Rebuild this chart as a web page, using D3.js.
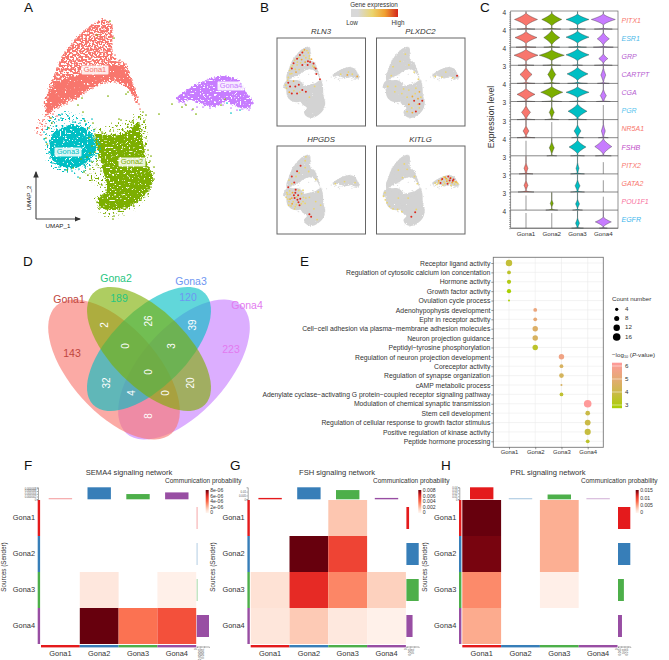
<!DOCTYPE html>
<html><head><meta charset="utf-8">
<script src="https://cdn.jsdelivr.net/npm/d3@7"></script>
<style>html,body{margin:0;padding:0;background:#fff}svg{display:block}text{font-family:"Liberation Sans",Arial,sans-serif}</style>
</head><body><svg id="c" width="669" height="660"></svg>
<script>
// ---------- DATA ----------
const clusters=["Gona1","Gona2","Gona3","Gona4"];
const clusterColors=["#F8766D","#7CAE00","#00BFC4","#C77CFF"];
// UMAP embedding. Outlines of populated areas.
const gona1Outline=[[10.5,2],[11.2,2.5],[11.3,3.7],[11.2,4.5],[11.5,5.8],[12.5,6.3],[13.2,8],[13.8,9.7],[13.9,10.7],[13.3,9.5],[12.3,8.5],[11,8.2],[9.3,8.8],[8,9.7],[6.7,10.3],[5.7,10.8],[4.7,11.5],[4.5,10],[5,8.7],[5.5,7.3],[6.2,5.7],[7.5,4],[8.7,2.8],[9.7,2.2]];
const gona1Band=[[4.7,11.3],[4.8,10],[5.2,8.8],[6.2,8],[7.8,7.5],[9.5,6.8],[11.2,6.5],[12.5,6.8],[13.3,8.5],[13.6,9.7],[12.3,8.2],[11,8],[9.3,8.6],[8,9.5],[6.7,10.1],[5.7,10.6]];
const gona1Tail=[[4.7,11.3],[3.8,12.3],[3.6,13.3],[4.3,13.5],[5,13],[5.5,12.5],[6,11.2]];
const gona2Outline=[[13.8,12.3],[14.3,14.3],[14.7,16.3],[15.3,17.7],[14.7,19.3],[13.3,20.5],[11.5,21],[10,20.7],[9.8,20],[10.7,19],[10.3,17],[9.7,14.7],[9.5,13.5],[11,13.5],[12.5,13.3],[13.2,12.8]];
const gona2Halo=[[14.2,11.2],[14.8,12.5],[15,15.5],[15.5,17.5],[15,19.5],[13.5,21],[11.5,21.8],[9.8,21],[9.5,20],[10.3,19],[9,18],[8.5,16.5],[9,14],[9.3,13],[11,12.5],[12.5,12.2],[13.6,11.5]];
const gona3Outline=[[5,14.3],[5.5,13.2],[7.2,12.5],[8.5,12.8],[9.5,14],[9.5,15.3],[8.3,16.5],[6.7,16.8],[5.3,16]];
const gona3Halo=[[4.6,13.5],[5,11.8],[7,11.2],[8.5,11.6],[9.5,12.8],[10.2,14.5],[9.7,16],[8.5,17.2],[6.5,17.3],[5,16.3],[4.5,15]];
const gona4Outline=[[17.7,9.8],[19,8.8],[20.7,8],[22.5,7.6],[24,8.2],[24.8,9.5],[25.3,10.3],[24.8,10.8],[23.7,10.7],[22.7,10.2],[21.3,10.7],[20,10.3],[19,10],[18,10.2]];
const gona1Points=[[10.5,2],[10.9,2.2],[11.2,2.5],[11.1,2.8],[10.2,2.1],[9.8,2.3],[9.3,2.5],[8.9,2.8],[8.4,3.1],[8,3.5],[7.6,3.9],[7.2,4.4],[6.9,4.8],[6.5,5.2],[6.2,5.7],[6,6.2],[5.7,6.8],[5.5,7.4],[5.3,8],[5.1,8.6],[4.9,9.2],[4.7,9.8],[4.6,10.4],[4.8,11],[4.6,11.5],[5,11.8],[4.3,12],[4,12.3],[3.8,12.8],[3.7,13.3],[4.1,13.5],[4.5,12.6],[5.3,11.4],[5.7,11.6],[11.3,3.6],[11.2,4.4],[11.5,5.5],[12,6],[12.6,6.4],[12.9,7.2],[13.2,8],[13.5,8.9],[13.8,9.7],[13.9,10.4],[14,10.9],[13.2,9.3],[12.4,8.5],[11.5,8.2],[10.5,8.3],[9.3,8.8],[8.4,9.3],[7.6,9.9],[6.7,10.4],[5.8,10.8],[9.2,3.3],[9.8,3.2],[10.4,3],[10.6,3.7],[10,4],[9.3,4.1],[8.6,3.9],[8.2,4.5],[8.8,4.7],[9.6,4.8],[10.3,4.6],[10.9,4.9],[10.7,5.5],[9.9,5.6],[9.1,5.5],[8.4,5.4],[7.7,5.2],[7.2,5.7],[7.9,6],[8.7,6.2],[9.5,6.2],[10.2,6.1],[6.8,6.4],[6.4,7],[7.2,6.8],[8,6.9],[8.9,7],[10.4,5.1],[11,6.1],[6.1,7.9],[7,7.6],[7.5,8.7],[9,7.8],[10.1,7.3],[11.2,7.2],[12.1,7.4],[12.5,7.9],[5.6,9.4],[6.3,9],[5.9,10.1],[7,9.3]];
const gona2Points=[[14.3,11.2],[14.6,11.5],[14,11.7],[14.4,12.1],[13.9,12.3],[13.5,12.6],[14.2,13],[14.6,13.8],[14,13.9],[14.5,14.6],[14.8,15],[14.4,15.6],[15,16.1],[15.4,16.7],[15.4,17.3],[15.4,17.9],[15.1,18.7],[14.8,19.4],[14.1,20],[13.4,20.6],[12.6,20.8],[11.9,21.1],[11.4,21.6],[11.3,21.9],[10.6,20.9],[10,20.8],[9.7,20.2],[10.3,19.7],[10.6,19],[10.2,18.5],[10.6,17.7],[10.1,17.1],[9.7,16.4],[9.9,15.7],[9.5,15.2],[9.2,14.6],[8.9,13.8],[9.5,13.4],[10.2,13.2],[11,13.1],[11.6,13.6],[12.3,13],[12.8,12.7],[13.2,12.2],[12.1,12],[8.8,17.5],[9.2,18],[9,16.9],[8.4,17.2],[8,17.8],[14.9,17],[15.1,15.6],[13.1,13.7],[8.7,15.7],[9.2,16.2],[15.9,11.4],[10.8,9.6],[12.6,9.4],[11.9,11.9],[8.2,9.8],[7.8,10.5],[8.3,11.2],[8.5,12.1],[9.3,12.3],[5.1,11.8],[4.9,12.8],[4.6,13.8],[4.7,14.4],[5.2,12.3],[12.8,9.2],[17.2,10.4],[18.2,10.7],[18.6,10.5],[19.3,10.9],[19.6,11.4],[22.5,9.9],[22.1,10.5],[11,2.1],[11.4,3.8],[9.7,3.5],[9,15.3],[8.1,15.9],[7.3,16.8],[6.7,17],[8.9,12.8]];
const gona3Points=[[5,14.3],[4.6,14.2],[4.4,13.9],[5.2,13.5],[5.6,12.6],[6.2,11.4],[6.1,11.8],[7.3,12.2],[8,12.3],[8.4,11.9],[9.2,11.9],[9.4,13.1],[9.8,14.2],[10,14.9],[9.6,15.6],[9.1,16.1],[8.5,16.7],[7.9,16.9],[7.2,17.1],[6.5,17],[5.9,16.7],[5.3,16.3],[5,15.8],[4.9,15.2],[8.4,17.1],[7.8,17.7],[5.9,12],[6.8,11.6],[4.4,13.2],[22.7,10.3],[23.1,11.3],[24,11],[9.3,15],[8.8,14.2]];
const gona4Points=[[17.7,9.8],[18.1,9.6],[18.6,9.3],[19,8.9],[19.6,8.6],[20.2,8.3],[20.8,8],[21.5,7.8],[22.2,7.7],[22.6,7.6],[23.2,7.9],[23.8,8.1],[24.2,8.6],[24.5,9.2],[24.9,9.6],[25.3,10.3],[25,10.8],[24.2,10.9],[23.7,11],[23.1,10.8],[22.3,10.5],[21.9,10.4],[21,10.8],[20.3,10.7],[19.7,10.7],[19.2,11],[19.6,10.2],[18.5,10.4],[17.9,10.2],[20.8,9.1],[21.8,8.9],[23,9.4],[24,9.9],[19.8,9.5],[20.5,10.2],[23.4,10.3],[24.9,11],[22.2,9.4]];
// Coloured cells of the four expression maps: x, y, level (1 low .. 3 high)
const rln3Points=[[10.3,3],[9,3.5],[8.3,4.2],[11,4.5],[7.5,5.3],[10,5],[8.8,5.5],[11.2,6.2],[6.5,6.5],[7.5,7],[9,7],[10.5,7],[12,7.3],[6,8],[5.5,9.5],[7.2,9],[5,10.5],[13,9.5],[12.8,8],[5,12],[4.5,13.5],[5.5,13],[6.5,11.5],[7,13],[8,12.5],[6,15],[7.5,15],[9,14],[10,14.5],[12.5,13],[11,16],[9.2,3.2],[6.8,5.7],[11.6,5.4],[8.1,8.3],[10.6,6],[5.7,7.7],[4.8,11.3],[12.2,6.6],[14,11],[19.9,9.6],[21.8,9.8],[23.2,9.6],[24.6,10.2],[22.1,9],[9.4,4.4],[6.2,7.2],[7,8.2],[8.5,6.4],[9.8,6.2],[11,5.2],[12.4,7.7],[5.4,8.5],[6,9.4],[7.6,6.2],[10.7,3.6],[9.6,2.8],[8,5],[4.3,12.6],[5.3,14.6],[6.6,14.2],[8.3,14.6]];
const rln3Levels=[1,3,3,1,3,1,2,3,3,1,3,3,1,3,1,2,1,3,3,3,1,3,2,3,3,3,3,3,3,1,1,1,1,2,1,3,1,1,3,3,1,2,1,2,1,1,1,1,1,2,1,2,1,1,1,1,2,1,1,2,1,1];
const plxdc2Points=[[10,4],[8.5,6],[11,7],[6.5,7.5],[6,10],[12.5,9],[13.7,11],[5,13],[7,14.5],[9,15],[11,14],[13,13.5],[14,14.5],[14.4,16],[14.8,17],[13.5,18],[12.5,17],[14,19],[13,20],[11.8,19],[11,18],[10.5,20],[12,15.8],[10.5,16],[12.8,15],[9.5,13.7],[24.7,10],[21.5,9],[18.5,10.2],[23.5,10.6],[13.6,16.4],[12,20.3],[7.2,13],[14,17.9],[20.4,10.4]];
const plxdc2Levels=[1,1,1,1,1,1,1,1,1,1,1,1,2,1,3,1,3,1,3,1,2,1,2,1,1,1,3,1,1,1,2,2,1,3,1];
const hpgdsPoints=[[9.8,3.6],[8.5,5],[9.8,5.5],[7.5,6.5],[10.8,6.6],[6,8],[6.7,9.7],[6,10],[5,11],[12.8,8.8],[4.8,13],[5.5,13],[6.2,12.5],[7,12.5],[7.8,13.2],[8.8,12.8],[6,14],[6.8,14],[7.6,14.5],[8.4,14.2],[9.2,15],[5.2,15],[6.1,15.6],[7.3,15.8],[8.2,16],[10,14],[11,13.8],[12.3,17],[11,18.5],[11.5,19.2],[12.8,15],[13.5,12.3],[4.6,12.5],[5.8,16.2],[6.8,17],[9.2,11.8],[10,2.5],[7.2,8],[8.1,7],[5.2,9],[13.2,20],[14.2,16],[21,9.4],[24,9.7],[18.4,10],[9.3,13.8],[7.1,11.7],[5.5,14.3],[6.6,13.2],[7.9,15.2],[4.4,13.8],[5.1,16],[7,16.4],[8.7,15.6],[5.4,12],[6.4,15],[8,11.9],[4.9,14.3],[9.8,15.5],[7.4,13.7]];
const hpgdsLevels=[1,3,1,3,1,3,3,1,3,1,1,1,2,3,3,1,2,3,3,3,1,1,2,1,3,1,1,1,3,3,1,1,1,1,1,1,1,1,1,1,1,1,1,1,1,1,3,2,3,3,1,1,1,1,1,1,1,1,1,1];
const kitlgPoints=[[9.7,4.5],[10.5,6],[8,6.2],[9.2,8.3],[12.6,8],[13.4,10],[4.2,12.5],[3.8,13.5],[4.3,14.5],[4.8,15.3],[5.5,16.3],[6.5,17],[7.8,17.2],[9,17.8],[13.1,17.2],[11.7,19.2],[12.8,18],[10.8,14],[8,14],[18.5,9.8],[19.5,9.2],[20.5,8.7],[21.3,8.2],[22.2,8],[23,8.3],[23.7,8.8],[24.4,9.5],[24.9,10],[20,9.8],[21,9.5],[21.8,9.3],[22.6,9.1],[23.3,9.7],[24,10.1],[19,10.2],[20.7,10.4],[22,10],[23,10.5],[20.3,8.9],[22.8,8.5],[21.6,8.6],[23.5,9.2],[19.4,9.8],[20.9,8.2],[22.4,9.7],[24.7,9.7],[23.9,9.4],[22,8.8],[21.2,10]];
const kitlgLevels=[1,1,1,1,1,1,1,1,1,1,1,1,1,1,1,3,3,1,1,1,2,3,2,3,1,3,2,1,3,1,2,3,2,1,1,1,3,1,2,3,2,3,1,1,1,1,1,1,1];
const expressionGenes=["RLN3","PLXDC2","HPGDS","KITLG"];
// Violin table: [peak level, half width, vertical spread, foot width]; zero width = a bare line
const violinGenes=["PITX1","ESR1","GRP","CARTPT","CGA","PGR","NR5A1","FSHB","PITX2","GATA2","POU1F1","EGFR"];
const violinTop=[4,4,4,3,4,3,3,4,3,3,3,4];
const geneColors=["#F8766D","#4DB8E8","#B55CD0","#B55CD0","#B55CD0","#55C3EE","#F8766D","#C04CC8","#F8766D","#F8766D","#F8709D","#3DB5EC"];
const violinG1=[[2.3,11.5,.65,9],[2.3,11,.6,10],[2.4,12,.6,8],[1.6,6,.55,9],[1.7,9,.6,9],[1.3,4.5,.55,9],[1.2,3,.45,9],[0,0,3.6,0],[1,2,.5,7],[1.2,2,.45,8],[0,0,2.6,0],[0,0,3.6,0]];
const violinG2=[[2.3,10,.65,9],[2.3,8,.75,8],[2.4,12.5,.55,9],[1.6,4,.6,8],[2.2,11,.6,10],[1.3,2.5,.5,7],[0,0,2.8,0],[1.9,2.5,.7,5],[0,0,0,0],[0,0,0,0],[1.2,1.5,.35,6],[0,0,3.6,0]];
const violinG3=[[2.3,11.5,.55,8],[2.4,11.5,.6,9],[2.5,11.5,.6,5],[1.7,10.5,.5,10],[2.2,11.5,.55,8],[1.5,9.5,.55,9],[1.2,3.5,.5,6],[2.1,8.5,.7,7],[1,1.5,.5,7],[1.1,2.5,.5,7],[1.1,2,.4,5],[1.2,2,.6,6]];
const violinG4=[[2.3,12,.55,9],[2,6,.65,10],[1.6,4.5,.5,9],[1.5,2.5,.6,6],[1.4,3,.7,7],[0,0,2.6,0],[1.2,2,.6,5],[2.2,8.5,.8,8],[0,0,2.1,0],[0,0,2.1,0],[0,0,2.4,0],[1.5,8,.5,4]];
// Venn
const vennNames=["Gona1","Gona2","Gona3","Gona4"];
const vennOuter=[143,189,120,223];
const vennInner=[2,0,26,39,3,0,32,4,0,20,8];
// Dot plot
const terms=["Receptor ligand activity","Regulation of cytosolic calcium ion concentation","Hormone activity","Growth factor activity","Ovulation cycle process","Adenohypophysis development","Ephr in receptor activity","Cell\u2212cell adhesion via plasma\u2212membrane adhesion molecules","Neuron projection guidance","Peptidyl\u2212tyrosine phosphorylation","Regulation of neuron projection development","Coreceptor activity","Regulation of synapse organization","cAMP metabolic process","Adenylate cyclase\u2212activating G protein\u2212coupled receptor signaling pathway","Modulation of chemical synaptic transmission","Stem cell development","Regulation of cellular response to growth factor stimulus","Positive regulation of kinase activity","Peptide hormone processing"];
const termCluster=[0,0,0,0,0,1,1,1,1,1,2,2,2,2,2,3,3,3,3,3];
const termCount=[12,5,6,6,2,5,5,9,9,9,9,5,7,2,5,16,7,10,11,5];
const termLogP=[3.8,3.6,3.3,3,3,5.2,5,4.6,4.4,3.6,5.4,4.4,4.3,4.4,3.7,6,4,4,3.9,3.6];
const countLegend=[4,8,12,16];
const logPLegend=[6,5,4,3];
// Heatmaps
const set1=["#E41A1C","#377EB8","#4DAF4A","#984EA3"];
const semaTitle="SEMA4 signaling network", fshTitle="FSH signaling network", prlTitle="PRL signaling network";
const semaMatrix=[[0,0,0,0],[0,0,0,0],[0,6.5e-7,0,2.5e-7],[0,8e-6,3.8e-6,4.8e-6]];
const semaTop=[1e-7,8.7e-6,3.8e-6,5e-6], semaRight=[1e-7,1e-7,1.2e-6,1.66e-5];
const fshMatrix=[[0,0,.0017,0],[0,.008,.0052,0],[.0009,.006,.0033,.0014],[.0007,.0016,.0006,.0002]];
const fshTop=[.0018,.0156,.012,.0018], fshRight=[.0034,.0156,.0156,.0078];
const prlMatrix=[[.015,0,.0043,0],[.0145,0,.0043,0],[.006,0,.0005,0],[.0045,0,0,0]];
const prlTop=[.04,.001,.016,.001], prlRight=[.0192,.0192,.0092,.0062];
const semaLegend=[8e-6,6e-6,4e-6,2e-6,0], fshLegend=[.008,.006,.004,.002,0], prlLegend=[.015,.01,.005,0];

// ---------- HELPERS ----------
const svg=d3.select("#c");
const defs=svg.append("defs");
const FONT_DARK="#222";
function txt(x,y,s,o={}){const t=svg.append("text").attr("x",x).attr("y",y).text(s)
 .attr("font-size",o.size||7).attr("fill",o.fill||FONT_DARK).attr("text-anchor",o.anchor||"start")
 .attr("dominant-baseline",o.base||"middle");
 if(o.italic)t.attr("font-style","italic"); if(o.rot!=null)t.attr("transform",`rotate(${o.rot},${x},${y})`); return t;}
function styleAxis(g,size,color){g.selectAll("text").attr("font-size",size).attr("fill",color||FONT_DARK);
 g.selectAll("line,path").attr("stroke",color||"#333").attr("stroke-width",.5);}
[["A",24,8],["B",260,8],["C",480,8],["D",23,262],["E",300,262],["F",24,466],["G",230,466],["H",441,466]]
 .forEach(([s,x,y])=>txt(x,y,s,{size:13.5,fill:"#111"}));
// point-cloud texture for the filled areas of the embedding
function cloud(id,freq,seed,slope,icpt,disp){
 const f=defs.append("filter").attr("id",id).attr("x","-15%").attr("y","-15%").attr("width","130%").attr("height","130%").attr("color-interpolation-filters","sRGB");
 f.append("feTurbulence").attr("type","fractalNoise").attr("baseFrequency",freq).attr("numOctaves",1).attr("seed",seed).attr("result","n");
 f.append("feDisplacementMap").attr("in","SourceGraphic").attr("in2","n").attr("scale",disp).attr("xChannelSelector","R").attr("yChannelSelector","G").attr("result","d");
 f.append("feColorMatrix").attr("in","n").attr("type","matrix").attr("values",`0 0 0 0 0 0 0 0 0 0 0 0 0 0 0 ${slope} 0 0 0 ${icpt}`).attr("result","m");
 f.append("feComposite").attr("in","d").attr("in2","m").attr("operator","in");
}
cloud("thin",.55,4,14,-8.2,9);
cloud("mid",.55,7,14,-6,7);
cloud("thick",.55,11,14,-4.4,6);
cloud("mini",.9,5,10,-1.6,2.5);

// ---------- A: UMAP ----------
const ux=d3.scaleLinear([0,26],[0,260]), uy=d3.scaleLinear([0,22],[0,220]);
const poly=(sx,sy)=>d3.line().x(d=>sx(d[0])).y(d=>sy(d[1])).curve(d3.curveCatmullRomClosed);
const regions=[[gona1Outline,0,"mid"],[gona1Band,0,"thick"],[gona1Tail,0,"thin"],[gona2Halo,1,"thin"],[gona2Outline,1,"thick"],[gona3Halo,2,"thin"],[gona3Outline,2,"thick"],[gona4Outline,3,"thick"]];
const gA=svg.append("g");
gA.selectAll("path").data(regions).join("path").attr("d",d=>poly(ux,uy)(d[0])).attr("fill",d=>clusterColors[d[1]]).attr("filter",d=>`url(#${d[2]})`);
const ptSets=[[gona1Points,0],[gona3Points,2],[gona4Points,3],[gona2Points,1]];
ptSets.forEach(([pts,c])=>gA.append("g").selectAll("circle").data(pts).join("circle").attr("cx",d=>ux(d[0])).attr("cy",d=>uy(d[1])).attr("r",.85).attr("fill",clusterColors[c]));
const clusterLabelAt=[[9.5,7],[13.2,16.2],[6.8,15.2],[23.1,8.6]];
clusterLabelAt.forEach((p,i)=>{const x=ux(p[0]),y=uy(p[1]);
 svg.append("rect").attr("x",x-13.5).attr("y",y-4.5).attr("width",27).attr("height",9).attr("rx",1).attr("fill","#fff").attr("opacity",.85);
 txt(x,y+.3,clusters[i],{size:7.5,fill:clusterColors[i],anchor:"middle"});});
defs.append("marker").attr("id","ah").attr("viewBox","0 0 6 6").attr("refX",5).attr("refY",3).attr("markerWidth",6).attr("markerHeight",6).attr("orient","auto")
 .append("path").attr("d","M0,0.5L6,3L0,5.5Z").attr("fill","#333");
svg.append("path").attr("d","M36,219V172").attr("stroke","#444").attr("stroke-width",1.1).attr("fill","none").attr("marker-end","url(#ah)");
svg.append("path").attr("d","M36,219H80").attr("stroke","#444").attr("stroke-width",1.1).attr("fill","none").attr("marker-end","url(#ah)");
txt(29,198,"UMAP_2",{size:6.2,anchor:"middle",rot:-90});
txt(58,226,"UMAP_1",{size:6.2,anchor:"middle"});

// ---------- B: expression maps ----------
const lvl=d3.scaleOrdinal([1,2,3],["#EBD56E","#F0A830","#DB2A1E"]);
const exprSets=[[rln3Points,rln3Levels],[plxdc2Points,plxdc2Levels],[hpgdsPoints,hpgdsLevels],[kitlgPoints,kitlgLevels]];
const boxes=[[277,38],[376.5,38],[277,146],[376.5,146]];
const miniAreas=[gona1Outline,gona1Tail,gona2Halo,gona2Outline,gona3Halo,gona3Outline,gona4Outline];
expressionGenes.forEach((g,i)=>{const [bx,by]=boxes[i];
 const mx=d3.scaleLinear([3.5,25.4],[bx+6,bx+83]), my=d3.scaleLinear([2,21.8],[by+9,by+80]);
 const p=svg.append("g");
 p.append("g").attr("filter","url(#mini)").selectAll("path").data(miniAreas).join("path").attr("d",poly(mx,my)).attr("fill","#D3D3D3");
 ptSets.forEach(([pts])=>p.append("g").selectAll("circle").data(pts).join("circle").attr("cx",d=>mx(d[0])).attr("cy",d=>my(d[1])).attr("r",.5).attr("fill","#D3D3D3"));
 const [pts,lv]=exprSets[i];
 const order=d3.range(pts.length).sort((a,b)=>lv[a]-lv[b]);
 p.append("g").selectAll("circle").data(order).join("circle").attr("cx",k=>mx(pts[k][0])).attr("cy",k=>my(pts[k][1])).attr("r",k=>lv[k]==3?1:.9).attr("fill",k=>lvl(lv[k]));
 svg.append("rect").attr("x",bx).attr("y",by).attr("width",88.5).attr("height",88).attr("fill","none").attr("stroke","#666").attr("stroke-width",1);
 txt(bx+44,by-6,g,{size:7.8,anchor:"middle",italic:true,fill:"#333"});
});
const gr=defs.append("linearGradient").attr("id","ge");
[["0","#D8D8D8"],[".15","#D8D8D8"],[".45","#EBD56E"],[".72","#F0A030"],["1","#D4261C"]].forEach(([o,c])=>gr.append("stop").attr("offset",o).attr("stop-color",c));
svg.append("rect").attr("x",351).attr("y",9).attr("width",47).attr("height",8).attr("fill","url(#ge)");
txt(374,5,"Gene expression",{size:6.3,anchor:"middle",fill:"#333"});
txt(352,23,"Low",{size:6.3,anchor:"middle",fill:"#333"});
txt(398,23,"High",{size:6.3,anchor:"middle",fill:"#333"});

// ---------- C: violins ----------
const vx=d3.scalePoint().domain(clusters).range([526,603.3]);
const vTop=11, vRow=18.1, vLeft=510.7, vRight=618;
const vTables=[violinG1,violinG2,violinG3,violinG4];
violinGenes.forEach((gene,r)=>{
 const y0=vTop+r*vRow, top=violinTop[r];
 const y=d3.scaleLinear([0,top*1.08],[y0+vRow,y0]);
 const gy=svg.append("g").attr("transform",`translate(${vLeft},0)`).call(d3.axisLeft(y).tickValues(d3.range(0,top+.01,.5)).tickSize(1.6).tickFormat(d=>d===top?d:""));
 styleAxis(gy,6.5,"#333"); gy.select(".domain").remove();
 clusters.forEach((c,k)=>{const [p,w,s,f]=vTables[k][r], cx=vx(c);
  if(w===0){ if(s>0) svg.append("line").attr("x1",cx).attr("x2",cx).attr("y1",y(0)).attr("y2",y(s)).attr("stroke",s>2.5&&k==0?"#aaa":"#555").attr("stroke-width",s>2.5&&k==0?1.2:.6); return;}
  const vals=d3.range(0,top*1.05,.02);
  const wid=v=>Math.max(w*Math.pow(Math.max(0,1-Math.abs(v-p)/(s*2.5)),1.5),f*Math.exp(-v/.07),.12);
  svg.append("path").datum(vals).attr("d",d3.area().y(v=>y(v)).x0(v=>cx-wid(v)).x1(v=>cx+wid(v)))
   .attr("fill",clusterColors[k]).attr("stroke","#333").attr("stroke-width",.4);
 });
 svg.append("line").attr("x1",vLeft).attr("x2",vRight).attr("y1",y0+vRow).attr("y2",y0+vRow).attr("stroke","#555").attr("stroke-width",.7);
 txt(621.5,y0+vRow/2+1,gene,{size:7,italic:true,fill:geneColors[r]});
});
svg.append("rect").attr("x",vLeft).attr("y",vTop).attr("width",vRight-vLeft).attr("height",vRow*12).attr("fill","none").attr("stroke","#666").attr("stroke-width",.7);
clusters.forEach(c=>txt(vx(c),234,c,{size:6.2,anchor:"middle",fill:"#333"}));
txt(492,117,"Expression level",{size:8.6,anchor:"middle",rot:-90,fill:"#333"});

// ---------- D: Venn ----------
const vennDef=[[184,369.5,86,43,-48,3],[114,369.5,86,43,48,0],[149,349,79,38,-45,2],[149,349,79,38,45,1]];
svg.append("g").selectAll("ellipse").data(vennDef).join("ellipse")
 .attr("cx",0).attr("cy",0).attr("rx",d=>d[2]).attr("ry",d=>d[3])
 .attr("transform",d=>`translate(${d[0]},${d[1]}) rotate(${d[4]})`)
 .attr("fill",d=>clusterColors[d[5]]).attr("opacity",.62);
const nameCol=["#C0453C","#27C681","#6E96F2","#E27BEF"];
const nameAt=[[69,300],[116,279],[191,282],[247,306]], outerAt=[[72,354],[119,299],[188,298],[231,350]];
vennNames.forEach((n,i)=>{txt(nameAt[i][0],nameAt[i][1],n,{size:10.5,anchor:"middle",fill:nameCol[i]});
 txt(outerAt[i][0],outerAt[i][1],vennOuter[i],{size:10.5,anchor:"middle",fill:nameCol[i]});});
const innerAt=[[105,325],[126,346],[149,321],[193,325],[172,346],[149,372],[107,383],[132,393],[166,393],[191,383],[149,416]];
vennInner.forEach((v,i)=>txt(innerAt[i][0],innerAt[i][1],v,{size:10,anchor:"middle",fill:"#fff",rot:-90}));

// ---------- E: dot plot ----------
const ex=d3.scalePoint().domain(clusters).range([509,587.7]);
const ey=d3.scalePoint().domain(terms).range([263,441.3]);
const er=d3.scaleSqrt([2,16],[1,3.8]);
const ec=d3.scaleLinear([3,4.3,6],["#A8D000","#D4B45C","#FF9A9A"]);
const eBox={x:493.3,y:257.3,w:110,h:190};
terms.forEach(t=>svg.append("line").attr("x1",eBox.x).attr("x2",eBox.x+eBox.w).attr("y1",ey(t)).attr("y2",ey(t)).attr("stroke","#EBEBEB").attr("stroke-width",.6));
clusters.forEach(c=>svg.append("line").attr("x1",ex(c)).attr("x2",ex(c)).attr("y1",eBox.y).attr("y2",eBox.y+eBox.h).attr("stroke","#EBEBEB").attr("stroke-width",.6));
svg.append("g").selectAll("circle").data(terms).join("circle").attr("cx",(d,i)=>ex(clusters[termCluster[i]])).attr("cy",d=>ey(d)).attr("r",(d,i)=>er(termCount[i])).attr("fill",(d,i)=>ec(termLogP[i]));
svg.append("rect").attr("x",eBox.x).attr("y",eBox.y).attr("width",eBox.w).attr("height",eBox.h).attr("fill","none").attr("stroke","#777").attr("stroke-width",.9);
const eyA=svg.append("g").attr("transform",`translate(${eBox.x},0)`).call(d3.axisLeft(ey).tickSize(2).tickPadding(1)); styleAxis(eyA,6.25,"#333"); eyA.select(".domain").remove();
// fit the label size to the width the longest label has in the reference (228 px)
const eWidest=d3.max(eyA.selectAll("text").nodes(),n=>n.getComputedTextLength());
eyA.selectAll("text").attr("font-size",6.25*228/eWidest);
const exA=svg.append("g").attr("transform",`translate(0,${eBox.y+eBox.h})`).call(d3.axisBottom(ex).tickSize(2).tickPadding(1)); styleAxis(exA,5.9,"#333"); exA.select(".domain").remove();
txt(612,299,"Count number",{size:6.2,fill:"#333"});
countLegend.forEach((c,i)=>{const y=309.3+i*9.25; svg.append("circle").attr("cx",616.7).attr("cy",y).attr("r",er(c)).attr("fill","#000");
 txt(625,y,c,{size:6.2,fill:"#333"});});
const lg=svg.append("text").attr("x",612).attr("y",355).attr("font-size",6.2).attr("fill","#333").attr("dominant-baseline","middle");
lg.append("tspan").text("\u2212log");lg.append("tspan").text("10").attr("font-size",3.8).attr("dy",1.5);
lg.append("tspan").text(" (").attr("dy",-1.5);lg.append("tspan").text("P").attr("font-style","italic");lg.append("tspan").text("-value)");
const lgr=defs.append("linearGradient").attr("id","lp").attr("x1",0).attr("x2",0).attr("y1",0).attr("y2",1);
[3,4,5,6].reverse().forEach((v,i)=>lgr.append("stop").attr("offset",i/3).attr("stop-color",ec(v)));
svg.append("rect").attr("x",612).attr("y",362.7).attr("width",10).attr("height",45.5).attr("fill","url(#lp)");
logPLegend.forEach((v,i)=>{const y=366+i*13; txt(625,y,v,{size:6.2,fill:"#333"});
 svg.append("line").attr("x1",612).attr("x2",622).attr("y1",y).attr("y2",y).attr("stroke","#fff").attr("stroke-width",.5);});

// ---------- F, G, H: heatmaps ----------
const reds=d3.scaleLinear([0,.125,.25,.375,.5,.75,.88,1],["#FFF5F0","#FEE0D2","#FCBBA1","#FC9272","#FB6A4A","#E62A25","#A50F15","#67000D"]);
function heat(o){
 const {left,title,titleX,matrix,top,right,legend,commX,cbX,fmt,topTicks,rightTicks}=o;
 const x=d3.scaleBand().domain(clusters).range([left,left+155.2]);
 const y=d3.scaleBand().domain(clusters).range([500,644]);
 const maxV=legend[0];
 const col=v=>v===0?"#fff":reds(Math.min(1,v/maxV));
 const g=svg.append("g");
 matrix.forEach((row,i)=>row.forEach((v,j)=>{ if(v===0)return;
  g.append("rect").attr("x",x(clusters[j])).attr("y",y(clusters[i])).attr("width",x.bandwidth()).attr("height",y.bandwidth()).attr("fill",col(v));}));
 clusters.forEach((c,i)=>{
  g.append("rect").attr("x",left-3.3).attr("y",y(c)).attr("width",2.4).attr("height",y.bandwidth()).attr("fill",set1[i]);
  g.append("rect").attr("x",x(c)).attr("y",645).attr("width",x.bandwidth()).attr("height",2.4).attr("fill",set1[i]);
  txt(left-6,y(c)+y.bandwidth()/2+.5,c,{size:7.4,anchor:"end",fill:"#333"});
  txt(x(c)+x.bandwidth()/2,654.5,c,{size:7.4,anchor:"middle",fill:"#333"});
 });
 const tScale=d3.scaleLinear([0,d3.max(top)],[499.3,487.3]);
 const rScale=d3.scaleLinear([0,d3.max(right)],[left+155.7,left+168]);
 clusters.forEach((c,i)=>{
  const tv=tScale(top[i]), rv=rScale(right[i]);
  const op=top[i]/d3.max(top)<.1&&o.pale?.35:1, opR=right[i]/d3.max(right)<.1&&o.pale?.55:1;
  g.append("rect").attr("x",x(c)+x.bandwidth()/2-11.7).attr("width",23.4).attr("y",Math.min(tv,498)).attr("height",Math.max(499.3-tv,1.3)).attr("fill",set1[i]).attr("opacity",op);
  g.append("rect").attr("y",y(c)+y.bandwidth()/2-11).attr("height",22).attr("x",left+155.7).attr("width",Math.max(rv-left-155.7,.7)).attr("fill",set1[i]).attr("opacity",opR);
 });
 const ta=svg.append("g").attr("transform",`translate(${left-3},0)`).call(d3.axisLeft(tScale).tickValues(topTicks).tickSize(1.2).tickPadding(.5).tickFormat(d3.format("~g")));
 styleAxis(ta,2.8,"#555");
 const ra=svg.append("g").attr("transform","translate(0,646.5)").call(d3.axisBottom(rScale).tickValues(rightTicks).tickSize(1.2).tickPadding(.5).tickFormat(d3.format("~g")));
 styleAxis(ra,2.8,"#555"); ra.selectAll("text").attr("transform","rotate(-90) translate(-2,-4)").attr("text-anchor","end");
 txt(titleX,473,title,{size:7.6,anchor:"middle",fill:"#333"});
 txt(commX,481.5,"Communication probability",{size:6.5,fill:"#333"});
 txt(left-37,567,"Sources (Sender)",{size:6.3,anchor:"middle",rot:-90,fill:"#333"});
 const id="cb"+Math.round(left); const cg=defs.append("linearGradient").attr("id",id).attr("x1",0).attr("x2",0).attr("y1",0).attr("y2",1);
 d3.range(0,1.01,.1).forEach(t=>cg.append("stop").attr("offset",t).attr("stop-color",reds(1-t)));
 svg.append("rect").attr("x",cbX).attr("y",490).attr("width",3).attr("height",23).attr("fill",`url(#${id})`);
 const cs=d3.scaleLinear([0,maxV],[513,491]);
 legend.forEach(v=>txt(cbX+4.5,cs(v),fmt(v),{size:5.1,fill:"#333"}));
}
const expFmt=v=>v===0?"0":v.toExponential(0).replace("e-","e-0");
const plainFmt=v=>String(v);
heat({left:41,title:semaTitle,titleX:129,matrix:semaMatrix,top:semaTop,right:semaRight,legend:semaLegend,commX:165,cbX:205.7,fmt:expFmt,pale:true,topTicks:[0,2e-6,4e-6,6e-6,8e-6],rightTicks:[0,5e-6,1e-5]});
heat({left:250.7,title:fshTitle,titleX:337,matrix:fshMatrix,top:fshTop,right:fshRight,legend:fshLegend,commX:373,cbX:418.3,fmt:plainFmt,topTicks:[0,.005,.01],rightTicks:[0,.005,.01]});
heat({left:462.3,title:prlTitle,titleX:548,matrix:prlMatrix,top:prlTop,right:prlRight,legend:prlLegend,commX:581,cbX:635.7,fmt:plainFmt,pale:true,topTicks:[0,.01,.02,.03,.04],rightTicks:[0,.005,.01,.015]});
</script></body></html>
